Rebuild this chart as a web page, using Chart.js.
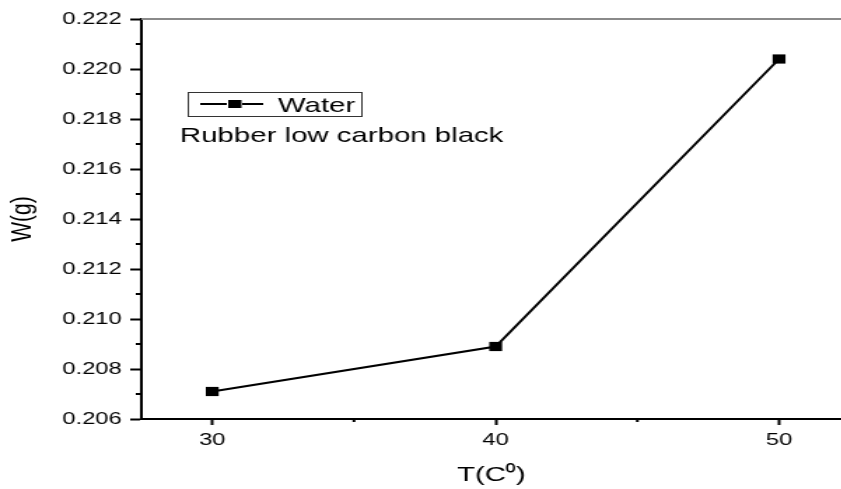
<!DOCTYPE html>
<html>
<head>
<meta charset="utf-8">
<script src="https://cdn.jsdelivr.net/npm/chart.js@4"></script>
<style>
html, body { margin: 0; padding: 0; background: #fff; overflow: hidden; }
#wrap { width: 601px; height: 489px; transform: scaleX(1.4); transform-origin: 0 0; }
</style>
</head>
<body>
<div id="wrap"><canvas id="chart" width="601" height="489"></canvas></div>
<script>
const temps = [30, 40, 50];
const water = [0.2071, 0.2089, 0.2204];
const xMajor = [30, 40, 50];
const xMinor = [35, 45];
const yMajor = [0.206, 0.208, 0.210, 0.212, 0.214, 0.216, 0.218, 0.220, 0.222];
const yMinor = [0.207, 0.209, 0.211, 0.213, 0.215, 0.217, 0.219, 0.221];
const seriesName = 'Water';
const note = 'Rubber low carbon black';

const FONT = "'Liberation Sans', Arial, sans-serif";

// minor ticks, grey top frame, legend box and the note
const extras = {
    id: 'extras',
    afterDraw(chart) {
        const ctx = chart.ctx;
        const a = chart.chartArea;
        const xs = chart.scales.x;
        const ys = chart.scales.y;
        ctx.save();

        ctx.strokeStyle = '#8a8a8a';
        ctx.lineWidth = 2;
        ctx.beginPath();
        ctx.moveTo(a.left, a.top);
        ctx.lineTo(a.right, a.top);
        ctx.stroke();

        ctx.strokeStyle = '#000';
        ctx.lineWidth = 2;
        ctx.beginPath();
        yMinor.forEach(v => {
            const y = ys.getPixelForValue(v);
            ctx.moveTo(a.left - 4, y);
            ctx.lineTo(a.left, y);
        });
        xMinor.forEach(v => {
            const x = xs.getPixelForValue(v);
            ctx.moveTo(x, a.bottom);
            ctx.lineTo(x, a.bottom + 3);
        });
        ctx.stroke();

        // legend
        ctx.strokeStyle = '#333';
        ctx.lineWidth = 1;
        ctx.strokeRect(134.5, 92.5, 124, 24);
        ctx.strokeStyle = '#000';
        ctx.lineWidth = 2;
        ctx.beginPath();
        ctx.moveTo(143, 104);
        ctx.lineTo(162, 104);
        ctx.moveTo(173, 104);
        ctx.lineTo(188, 104);
        ctx.stroke();
        ctx.fillStyle = '#000';
        ctx.fillRect(163, 100, 9.5, 8);
        ctx.font = '21px ' + FONT;
        ctx.textBaseline = 'alphabetic';
        ctx.fillText(seriesName, 198.5, 112);
        ctx.fillText(note, 128.5, 142);
        ctx.restore();
    }
};

new Chart(document.getElementById('chart'), {
    type: 'line',
    data: {
        datasets: [{
            label: seriesName,
            data: temps.map((t, i) => ({ x: t, y: water[i] })),
            borderColor: '#000',
            backgroundColor: '#000',
            borderWidth: 2,
            pointStyle: 'rect',
            pointRadius: 6.5,
            pointBorderWidth: 0,
            tension: 0
        }]
    },
    options: {
        responsive: false,
        animation: false,
        devicePixelRatio: 1,
        layout: { autoPadding: false, padding: { top: 19, right: 0, left: 0, bottom: 0 } },
        plugins: { legend: { display: false }, tooltip: { enabled: false } },
        scales: {
            x: {
                type: 'linear',
                min: 27.5,
                max: 52.2,
                afterBuildTicks: s => { s.ticks = xMajor.map(v => ({ value: v })); },
                afterFit: s => { s.height = 70; s.paddingLeft = 0; s.paddingRight = 0; },
                ticks: { color: '#000', font: { family: FONT, size: 17 }, padding: 5 },
                grid: { drawOnChartArea: false, tickLength: 6, tickWidth: 2, tickColor: '#000' },
                border: { color: '#000', width: 2 },
                title: { display: true, text: 'T(C⁰)', color: '#000', font: { family: FONT, size: 21 }, padding: { top: 0, bottom: 1 } }
            },
            y: {
                min: 0.206,
                max: 0.222,
                afterBuildTicks: s => { s.ticks = yMajor.map(v => ({ value: v })); },
                afterFit: s => { s.width = 101; },
                ticks: { color: '#000', font: { family: FONT, size: 17 }, padding: 6, callback: v => v.toFixed(3) },
                grid: { drawOnChartArea: false, tickLength: 8, tickWidth: 2, tickColor: '#000' },
                border: { color: '#000', width: 2 },
                title: { display: true, text: 'W(g)', color: '#000', font: { family: FONT, size: 21 }, padding: { top: 4, bottom: 4 } }
            }
        }
    },
    plugins: [extras]
});
</script>
</body>
</html>
